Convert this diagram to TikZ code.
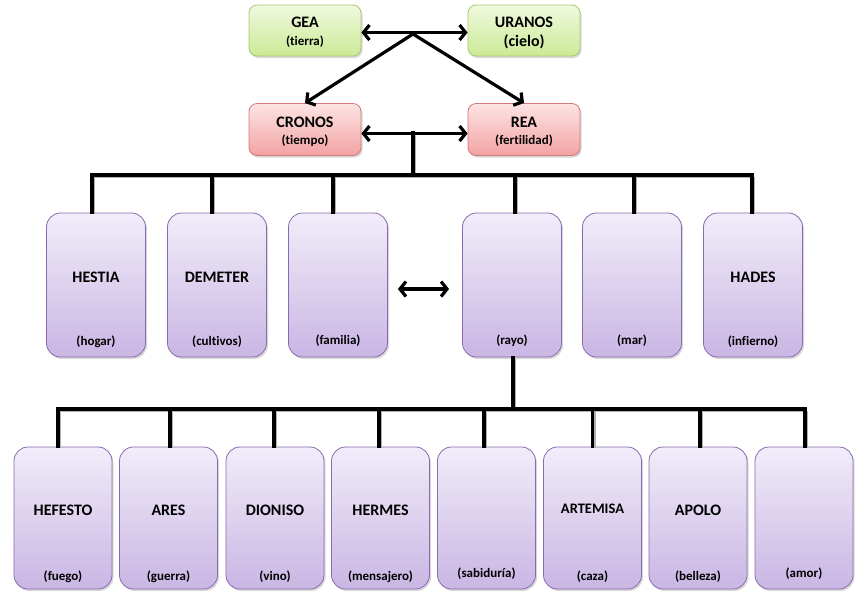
\documentclass[tikz,border=0pt]{standalone}
\usepackage{fontspec}
\setmainfont{Carlito}[Ligatures=CommonOff]
\usetikzlibrary{arrows.meta,shadows}
\definecolor{ptop}{HTML}{F1EDF9}
\definecolor{pbot}{HTML}{C9B6E4}
\definecolor{pborder}{HTML}{8A6AAE}
\definecolor{gtop}{HTML}{F0F9DF}
\definecolor{gbot}{HTML}{CBEA96}
\definecolor{gborder}{HTML}{A6C96C}
\definecolor{rtop}{HTML}{FDE4E4}
\definecolor{rbot}{HTML}{F3A2A2}
\definecolor{rborder}{HTML}{D27A7A}
\tikzset{
  boxbase/.style={inner sep=0pt, line width=0.8pt,
    drop shadow={shadow xshift=1.5pt, shadow yshift=-2pt, opacity=0.3}},
  god/.style={boxbase, rounded corners=14pt, draw=pborder, top color=ptop, bottom color=pbot,
    minimum width=99pt, minimum height=144pt},
  kid/.style={god, minimum width=98pt, minimum height=142pt},
  greenbox/.style={boxbase, rounded corners=8pt, draw=gborder, top color=gtop, bottom color=gbot,
    minimum width=112pt, minimum height=51pt},
  redbox/.style={boxbase, rounded corners=8pt, draw=rborder, top color=rtop, bottom color=rbot,
    minimum width=112pt, minimum height=52pt},
  nm/.style={font=\fontsize{16}{18}\selectfont\bfseries, inner sep=0pt},
  sb/.style={font=\fontsize{13}{15}\selectfont\bfseries, inner sep=0pt},
  conn/.style={line width=3.2pt, black},
  treeline/.style={conn, line cap=rect,
    preaction={draw=black!30, line width=3.2pt, transform canvas={xshift=1.5pt,yshift=-1.5pt}}},
  dbl/.style={conn, {Straight Barb[length=6pt,width=15pt]}-{Straight Barb[length=6pt,width=15pt]}},
  single/.style={conn, -{Straight Barb[length=6pt,width=15pt]}}
}
\begin{document}
\begin{tikzpicture}[x=1pt,y=-1pt]
\useasboundingbox (0,0) rectangle (865,598);
% top level
\node[greenbox] (gea) at (305,30.5) {};
\node[greenbox] (uranos) at (524,30.5) {};
\node[redbox] (cronos) at (305,129.5) {};
\node[redbox] (rea) at (524,129.5) {};
\node[nm] at ([yshift=8pt]gea.center) {GEA};
\node[sb] at ([yshift=-11pt]gea.center) {(tierra)};
\node[nm] at ([yshift=8pt]uranos.center) {URANOS};
\node[nm] at ([yshift=-11pt]uranos.center) {(cielo)};
\node[nm] at ([yshift=7pt]cronos.center) {CRONOS};
\node[sb] at ([yshift=-11pt]cronos.center) {(tiempo)};
\node[nm] at ([yshift=7pt]rea.center) {REA};
\node[sb] at ([yshift=-11pt]rea.center) {(fertilidad)};
\coordinate (j1) at (413,34);
\coordinate (j2) at (413,133);
\coordinate (b1) at (413,175);
\coordinate (b2) at (513,409);
\draw[dbl] ([yshift=-2pt]gea.east) -- ([yshift=-2pt]uranos.west);
\draw[single] (j1) -- (cronos.north);
\draw[single] (j1) -- (rea.north);
\draw[dbl] ([yshift=-4pt]cronos.east) -- ([yshift=-4pt]rea.west);
% middle row
\node[god] (hestia) at (96,285) {};
\node[god] (demeter) at (217,285) {};
\node[god] (hera) at (338,285) {};
\node[god] (zeus) at (512,285) {};
\node[god] (poseidon) at (632,285) {};
\node[god] (hades) at (753,285) {};
\node[nm] at ([yshift=8pt]hestia.center) {HESTIA};
\node[nm] at ([yshift=8pt]demeter.center) {DEMETER};
\node[nm] at ([yshift=8pt]hades.center) {HADES};
\node[sb] at ([yshift=16pt]hestia.south) {(hogar)};
\node[sb] at ([yshift=16pt]demeter.south) {(cultivos)};
\node[sb] at ([yshift=17pt]hera.south) {(familia)};
\node[sb] at ([yshift=17pt]zeus.south) {(rayo)};
\node[sb] at ([yshift=17pt]poseidon.south) {(mar)};
\node[sb] at ([yshift=16pt]hades.south) {(infierno)};
\draw[dbl, shorten <=10pt, shorten >=13pt] ([yshift=-4pt]hera.east) -- ([yshift=-4pt]zeus.west);
% bus 1
\draw[treeline] (j2) -- (b1);
\draw[treeline] ([xshift=-4pt]hestia.north |- b1) -- ([xshift=-1pt]hades.north |- b1);
\foreach \n/\dx in {hestia/-4,demeter/-5,hera/-5,zeus/3,poseidon/2,hades/-1}
  \draw[treeline] ([xshift=\dx pt]\n.north |- b1) -- ([xshift=\dx pt]\n.north);
% bottom row
\node[kid] (hefesto) at (63,518) {};
\node[kid] (ares) at (168.5,518) {};
\node[kid] (dioniso) at (275,518) {};
\node[kid] (hermes) at (380.5,518) {};
\node[kid] (atenea) at (486.5,518) {};
\node[kid] (artemisa) at (592.5,518) {};
\node[kid] (apolo) at (698,518) {};
\node[kid] (afrodita) at (804,518) {};
\node[nm] at ([yshift=8pt]hefesto.center) {HEFESTO};
\node[nm] at ([yshift=8pt]ares.center) {ARES};
\node[nm] at ([yshift=8pt]dioniso.center) {DIONISO};
\node[nm] at ([yshift=8pt]hermes.center) {HERMES};
\node[nm, font=\fontsize{14.5}{16}\selectfont\bfseries] at ([yshift=9pt]artemisa.center) {ARTEMISA};
\node[nm] at ([yshift=8pt]apolo.center) {APOLO};
\node[sb] at ([yshift=13pt]hefesto.south) {(fuego)};
\node[sb] at ([yshift=13pt]ares.south) {(guerra)};
\node[sb] at ([yshift=13pt]dioniso.south) {(vino)};
\node[sb] at ([yshift=13pt]hermes.south) {(mensajero)};
\node[sb] at ([yshift=16pt]atenea.south) {(sabiduría)};
\node[sb] at ([yshift=13pt]artemisa.south) {(caza)};
\node[sb] at ([yshift=13pt]apolo.south) {(belleza)};
\node[sb] at ([yshift=16pt]afrodita.south) {(amor)};
% bus 2
\draw[treeline] (zeus.south -| b2) -- (b2);
\draw[treeline] ([xshift=-5pt]hefesto.north |- b2) -- ([xshift=1pt]afrodita.north |- b2);
\foreach \n/\dx in {hefesto/-5,ares/1.5,dioniso/-1,hermes/-1.5,atenea/-2.5,artemisa/0,apolo/2,afrodita/1}
  \draw[treeline] ([xshift=\dx pt]\n.north |- b2) -- ([xshift=\dx pt]\n.north);
\end{tikzpicture}
\end{document}
